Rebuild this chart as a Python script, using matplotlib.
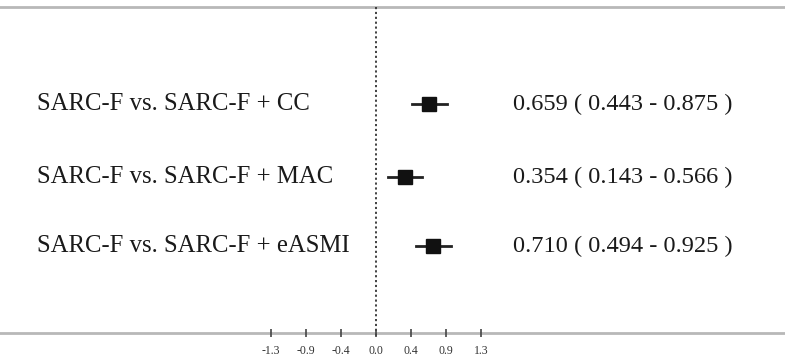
import matplotlib.pyplot as plt

comparisons = ["SARC-F vs. SARC-F + CC", "SARC-F vs. SARC-F + MAC", "SARC-F vs. SARC-F + eASMI"]
estimates = [0.659, 0.354, 0.710]
lower = [0.443, 0.143, 0.494]
upper = [0.875, 0.566, 0.925]
tick_labels = ["-1.3", "-0.9", "-0.4", "0.0", "0.4", "0.9", "1.3"]

plt.rcParams["font.family"] = ["Liberation Serif", "DejaVu Serif"]

fig = plt.figure(figsize=(7.85, 3.59), dpi=100)
ax = fig.add_axes([0, 0, 1, 1])
# x in effect-size units (zero at ~376 px), y in pixel rows from the top
ax.set_xlim(-4.653, 5.062)
ax.set_ylim(359, 0)
ax.axis("off")

row_y = [104, 177, 246]
top_y, bottom_y = 7, 333
ax.axhline(top_y, color="#b8b8b8", linewidth=2)
ax.axhline(bottom_y, color="#b8b8b8", linewidth=2)
ax.plot([0, 0], [top_y, 337], color="#333333", linestyle=(0, (1.2, 1.5)), linewidth=1.3)

step = 1.3 / 3
tick_pos = [step * k for k in range(-3, 4)]
ax.plot(tick_pos, [bottom_y] * len(tick_pos), linestyle="none", marker="|",
        markersize=6, markeredgewidth=1.2, color="#444444")
for pos, lab in zip(tick_pos, tick_labels):
    ax.text(pos, 351, lab, ha="center", va="center", fontsize=8.5, color="#333333")

x_left = -4.2
x_right = 1.695
for y, name, est, lo, hi in zip(row_y, comparisons, estimates, lower, upper):
    ax.plot([lo, hi], [y, y], color="#222222", linewidth=2)
    ax.plot(est, y, marker="s", markersize=10, color="#111111")
    ax.text(x_left, y, name, ha="left", va="center", fontsize=17.8, color="#1a1a1a")
    ax.text(x_right, y, f"{est:.3f} ( {lo:.3f} - {hi:.3f} )", ha="left", va="center",
            fontsize=17.6, color="#1a1a1a")

fig.savefig("out.png", dpi=100)
